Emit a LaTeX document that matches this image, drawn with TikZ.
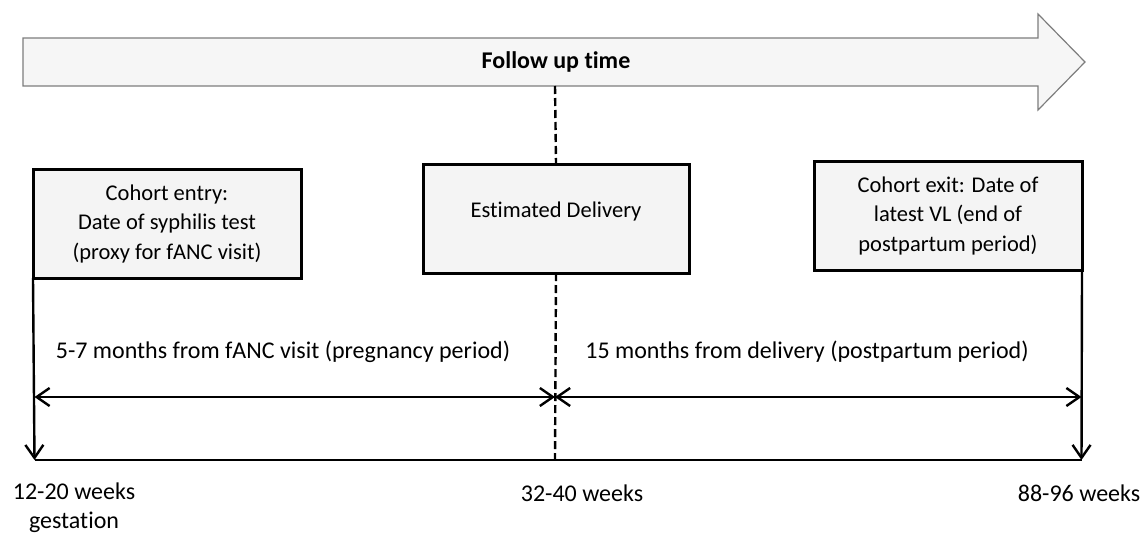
\documentclass[tikz,border=0pt]{standalone}
\usepackage{fontspec}
\setmainfont{Carlito}[Ligatures=NoCommon]
\usetikzlibrary{arrows.meta}
\definecolor{boxfill}{RGB}{244,244,244}
\definecolor{arrowfill}{RGB}{246,246,246}
\definecolor{arrowedge}{RGB}{125,125,125}

\begin{document}
\begin{tikzpicture}[x=1pt, y=-1pt,
  >={Straight Barb[length=13pt, width=18pt]},
  periodbox/.style={draw, line width=3pt, fill=boxfill, align=center,
    outer sep=0pt, minimum width=268pt, minimum height=109pt,
    font=\fontsize{22.5}{29.5}\selectfont},
  timeline/.style={line width=2.4pt},
  lbl/.style={font=\fontsize{24}{29}\selectfont, align=center, inner sep=0pt}]
\useasboundingbox (0,0) rectangle (1145,533);
\draw[arrowedge, fill=arrowfill, line width=1.2pt]
  (23,38) -- (1038,38) -- (1038,14) -- (1085,62) -- (1038,110) -- (1038,86)
  -- (23,86) -- cycle;
\node[lbl, font=\fontsize{24}{24}\selectfont\bfseries] (follow) at (556,62) {Follow up time};
\coordinate (arrowbot) at (555,86);
\node[periodbox] (entry) at (167,223.5)
  {Cohort entry:\\Date of syphilis test\\(proxy for fANC visit)};
\node[periodbox, minimum width=266pt, text height=15pt, text depth=18pt] (delivery)
  at (556,218.5) {Estimated Delivery};
\node[periodbox] (exit) at (948,215.5)
  {Cohort exit: Date of\\latest VL (end of\\postpartum period)};
\coordinate (t0) at (34.5,460);
\coordinate (t1) at (555,460);
\coordinate (t2) at (1081.5,460);
\coordinate (p0) at (34.5,397);
\coordinate (p1) at (555,397);
\coordinate (p2) at (1081.5,397);
\draw[timeline, dash pattern=on 8pt off 4pt] (arrowbot) -- (delivery.north);
\draw[timeline, dash pattern=on 8pt off 4pt] (delivery.south) -- (t1);
\draw[timeline, ->] (entry.south west) -- (t0);
\draw[timeline, ->] (exit.south east) -- (t2);
\draw[timeline] (t0) -- (t2);
\draw[timeline, <->] (p0) -- (p1);
\draw[timeline, <->] (p1) -- (p2);
\node[lbl] (pregnancy) at (283,352) {5-7 months from fANC visit (pregnancy period)};
\node[lbl] (postpartum) at (807,352) {15 months from delivery (postpartum period)};
\node[lbl] (wk1) at (74,507.5) {12-20 weeks\\gestation};
\node[lbl] (wk2) at (582,493) {32-40 weeks};
\node[lbl] (wk3) at (1079,493) {88-96 weeks};
\end{tikzpicture}
\end{document}
